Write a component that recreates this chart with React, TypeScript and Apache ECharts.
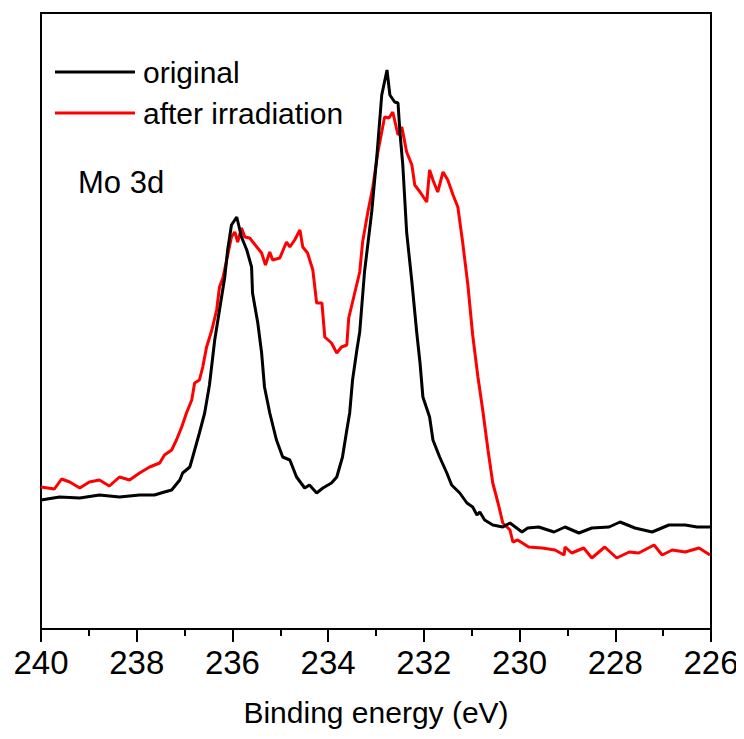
import React, { useEffect, useRef } from "react";
import * as echarts from "echarts";

// Binding energy (eV) and intensity (a.u.)
const originalEnergy = [
  240.0, 239.61, 239.19, 238.78, 238.36, 237.94, 237.63, 237.42, 237.27, 237.1,
  237.04, 236.89, 236.83, 236.69, 236.58, 236.48, 236.37, 236.27, 236.16, 236.1,
  236.02, 235.91, 235.81, 235.7, 235.6, 235.58, 235.47, 235.39, 235.33, 235.22,
  235.08, 234.95, 234.8, 234.66, 234.49, 234.39, 234.24, 234.11, 233.93, 233.82,
  233.7, 233.61, 233.55, 233.49, 233.4, 233.34, 233.24, 233.09, 232.98, 232.88,
  232.77, 232.71, 232.61, 232.54, 232.5, 232.44, 232.36, 232.25, 232.15, 232.08,
  232.02, 231.88, 231.81, 231.67, 231.52, 231.42, 231.25, 231.1, 230.98, 230.89,
  230.83, 230.73, 230.56, 230.35, 230.2, 229.95, 229.83, 229.6, 229.28, 229.05,
  228.76, 228.49, 228.13, 227.9, 227.59, 227.23, 226.88, 226.54, 226.29, 226.02,
];
const originalIntensity = [
  129, 132, 131, 134, 132, 134, 134, 137, 139, 149,
  156, 162, 172, 196, 216, 244, 289, 319, 352, 379,
  404, 412, 392, 379, 362, 336, 306, 276, 242, 216,
  189, 172, 169, 152, 141, 144, 136, 141, 146, 152,
  172, 199, 216, 249, 279, 297, 357, 417, 474, 534,
  559, 534, 527, 526, 497, 464, 397, 347, 297, 266,
  232, 212, 189, 172, 156, 144, 136, 126, 122, 114,
  117, 109, 104, 102, 106, 97, 101, 102, 97, 102,
  96, 101, 102, 107, 101, 97, 104, 104, 102, 102,
];

const irradiatedEnergy = [
  240.0, 239.72, 239.57, 239.4, 239.19, 238.99, 238.78, 238.57, 238.36, 238.15,
  237.94, 237.73, 237.52, 237.42, 237.27, 237.17, 237.06, 236.96, 236.85, 236.79,
  236.69, 236.62, 236.54, 236.43, 236.33, 236.27, 236.2, 236.12, 236.02, 235.95,
  235.89, 235.81, 235.74, 235.64, 235.49, 235.39, 235.31, 235.22, 235.16, 235.01,
  234.87, 234.8, 234.7, 234.59, 234.53, 234.43, 234.32, 234.24, 234.13, 234.07,
  233.93, 233.82, 233.72, 233.61, 233.57, 233.44, 233.34, 233.28, 233.17, 233.07,
  232.96, 232.82, 232.73, 232.65, 232.54, 232.46, 232.36, 232.25, 232.19, 232.08,
  231.94, 231.88, 231.81, 231.71, 231.6, 231.5, 231.39, 231.29, 231.19, 231.08,
  230.98, 230.87, 230.77, 230.66, 230.56, 230.45, 230.35, 230.2, 230.14, 230.04,
  229.81, 229.53, 229.26, 229.07, 229.05, 228.91, 228.66, 228.49, 228.22, 227.97,
  227.71, 227.51, 227.19, 227.02, 226.81, 226.54, 226.25, 226.02,
];
const irradiatedIntensity = [
  142, 140, 150, 147, 141, 147, 149, 143, 152, 149,
  156, 162, 166, 174, 179, 189, 202, 216, 229, 246,
  249, 262, 282, 299, 319, 342, 351, 369, 392, 397,
  387, 401, 392, 391, 382, 376, 364, 377, 369, 371,
  387, 382, 389, 399, 382, 376, 359, 326, 326, 292,
  286, 276, 282, 284, 311, 337, 357, 387, 417, 441,
  477, 512, 511, 517, 494, 502, 477, 464, 444, 437,
  427, 459, 449, 437, 457, 449, 434, 422, 387, 344,
  294, 252, 219, 179, 146, 126, 106, 99, 87, 89,
  82, 81, 79, 74, 82, 76, 81, 71, 82, 71,
  77, 76, 84, 74, 79, 77, 81, 74,
];

const seriesNames = ["original", "after irradiation"];
const xTicks = { min: 226, max: 240, step: 2 };
const xTitle = "Binding energy (eV)";
const panelLabel = "Mo 3d";

const FONT = "'Liberation Sans', Arial, Helvetica, sans-serif";

export default function App() {
  const ref = useRef<HTMLDivElement>(null);

  useEffect(() => {
    if (!ref.current) return;
    const chart = echarts.init(ref.current, undefined, { renderer: "svg" });
    const pair = (xs: number[], ys: number[]) => xs.map((x, i) => [x, ys[i]]);

    chart.setOption({
      animation: false,
      backgroundColor: "#fff",
      grid: {
        left: 41,
        right: 33,
        top: 13,
        bottom: 110,
        show: true,
        borderColor: "#000",
        borderWidth: 2,
        backgroundColor: "transparent",
      },
      legend: {
        orient: "vertical",
        left: 50,
        top: 52,
        icon: "rect",
        itemWidth: 80,
        itemHeight: 3,
        itemGap: 11,
        textStyle: {
          fontFamily: FONT,
          fontSize: 30,
          color: "#000",
          padding: [0, 0, 0, 3],
        },
        data: seriesNames,
      },
      xAxis: {
        type: "value",
        inverse: true,
        min: xTicks.min,
        max: xTicks.max,
        interval: xTicks.step,
        name: xTitle,
        nameLocation: "middle",
        nameGap: 68,
        nameTextStyle: { fontFamily: FONT, fontSize: 30, color: "#000" },
        axisLine: { show: true, lineStyle: { color: "#000", width: 2 } },
        axisTick: { show: true, inside: false, length: 13, lineStyle: { color: "#000", width: 2 } },
        minorTick: { show: true, splitNumber: 2, length: 7, lineStyle: { color: "#000", width: 2 } },
        axisLabel: { fontFamily: FONT, fontSize: 33, color: "#000", margin: 17 },
        splitLine: { show: false },
        minorSplitLine: { show: false },
      },
      yAxis: {
        type: "value",
        min: 0,
        max: 616,
        axisLine: { show: true, lineStyle: { color: "#000", width: 2 } },
        axisTick: { show: false },
        axisLabel: { show: false },
        splitLine: { show: false },
      },
      graphic: [
        {
          type: "text",
          left: 78,
          top: 167,
          style: { text: panelLabel, fontFamily: FONT, fontSize: 31, fill: "#000" },
        },
      ],
      series: [
        {
          name: seriesNames[0],
          type: "line",
          data: pair(originalEnergy, originalIntensity),
          symbol: "none",
          lineStyle: { color: "#000", width: 3 },
          itemStyle: { color: "#000" },
          z: 3,
        },
        {
          name: seriesNames[1],
          type: "line",
          data: pair(irradiatedEnergy, irradiatedIntensity),
          symbol: "none",
          lineStyle: { color: "#ff0000", width: 3 },
          itemStyle: { color: "#ff0000" },
          z: 2,
        },
      ],
    });
    return () => chart.dispose();
  }, []);

  return <div ref={ref} style={{ width: 744, height: 739, margin: -8 }} />;
}
